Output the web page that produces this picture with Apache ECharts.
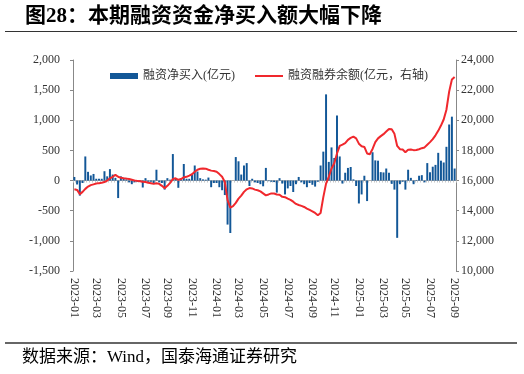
<!DOCTYPE html>
<html>
<head>
<meta charset="utf-8">
<script src="https://cdn.jsdelivr.net/npm/echarts@6/dist/echarts.min.js"></script>
<style>
html,body{margin:0;padding:0;background:#fff;}
#c{width:524px;height:374px;}
</style>
</head>
<body>
<div id="c"></div>
<script>
// weekly dates (Fridays)
const weeks = [
'2023-01-06','2023-01-13','2023-01-20','2023-01-27','2023-02-03','2023-02-10','2023-02-17','2023-02-24',
'2023-03-03','2023-03-10','2023-03-17','2023-03-24','2023-03-31','2023-04-07','2023-04-14','2023-04-21','2023-04-28',
'2023-05-05','2023-05-12','2023-05-19','2023-05-26','2023-06-02','2023-06-09','2023-06-16','2023-06-23','2023-06-30',
'2023-07-07','2023-07-14','2023-07-21','2023-07-28','2023-08-04','2023-08-11','2023-08-18','2023-08-25',
'2023-09-01','2023-09-08','2023-09-15','2023-09-22','2023-09-29','2023-10-06','2023-10-13','2023-10-20','2023-10-27',
'2023-11-03','2023-11-10','2023-11-17','2023-11-24','2023-12-01','2023-12-08','2023-12-15','2023-12-22','2023-12-29',
'2024-01-05','2024-01-12','2024-01-19','2024-01-26','2024-02-02','2024-02-09','2024-02-16','2024-02-23',
'2024-03-01','2024-03-08','2024-03-15','2024-03-22','2024-03-29','2024-04-05','2024-04-12','2024-04-19','2024-04-26',
'2024-05-03','2024-05-10','2024-05-17','2024-05-24','2024-05-31','2024-06-07','2024-06-14','2024-06-21','2024-06-28',
'2024-07-05','2024-07-12','2024-07-19','2024-07-26','2024-08-02','2024-08-09','2024-08-16','2024-08-23','2024-08-30',
'2024-09-06','2024-09-13','2024-09-20','2024-09-27','2024-10-04','2024-10-11','2024-10-18','2024-10-25',
'2024-11-01','2024-11-08','2024-11-15','2024-11-22','2024-11-29','2024-12-06','2024-12-13','2024-12-20','2024-12-27',
'2025-01-03','2025-01-10','2025-01-17','2025-01-24','2025-01-31','2025-02-07','2025-02-14','2025-02-21','2025-02-28',
'2025-03-07','2025-03-14','2025-03-21','2025-03-28','2025-04-04','2025-04-11','2025-04-18','2025-04-25',
'2025-05-02','2025-05-09','2025-05-16','2025-05-23','2025-05-30','2025-06-06','2025-06-13','2025-06-20','2025-06-27',
'2025-07-04','2025-07-11','2025-07-18','2025-07-25','2025-08-01','2025-08-08','2025-08-15','2025-08-22','2025-08-29',
'2025-09-05'
];

// 融资净买入 (亿元)
const netBuy = [
60,-65,-250,-40,400,145,85,110,
30,30,30,155,70,190,100,45,-290,
70,45,20,-30,-60,-30,-20,-15,-115,
40,-20,-20,-40,180,-30,-40,-150,
40,15,440,40,-120,15,275,30,30,
100,250,150,40,20,15,50,-110,-40,
-40,-110,-160,-240,-730,-870,0,390,
320,100,250,290,-90,30,-30,-40,-60,
-95,210,-10,-20,-25,-200,40,-50,-230,
-130,-90,-190,-60,60,-30,-60,-110,-40,
-70,-100,-20,250,480,1430,310,550,
375,1080,400,-50,130,210,225,20,-90,
-380,-230,80,-340,0,470,335,330,140,
135,200,130,-55,-150,-950,-60,-20,
-150,180,45,-60,10,80,90,-30,290,
140,230,260,460,330,300,560,930,1060,
200
];

// 融资融券余额 (亿元, 右轴)
const balance = [
15430,15380,15100,15250,15450,15600,15700,15750,
15800,15830,15850,15900,16000,16150,16250,16380,16250,
16180,16150,16130,16100,16050,16000,15980,15960,15920,
15900,15850,15820,15780,15820,15780,15650,15500,
15650,15850,16100,16150,16050,16100,16220,16250,16330,
16420,16580,16720,16780,16800,16790,16720,16660,16630,
16580,16430,16250,15900,14700,14200,14300,14520,
14800,15000,15250,15420,15500,15480,15400,15360,15280,
15150,15020,15080,15150,15140,15080,15060,14920,14900,
14800,14720,14600,14450,14380,14320,14250,14140,14050,
13960,13850,13700,13850,14900,15800,16250,16800,
17150,17800,18300,18380,18480,18700,18830,18920,18800,
18450,18280,18230,17800,17750,18100,18550,18800,18950,
19080,19250,19420,19400,19100,18300,18080,18060,
17880,18050,18060,18020,18030,18080,18150,18200,18380,
18550,18750,19000,19300,19650,20050,20700,21900,22700,
22870
];

const leftTicks = [-1500,-1000,-500,0,500,1000,1500,2000];
const rightTicks = [10000,12000,14000,16000,18000,20000,22000,24000];

const seriesNames = ['融资净买入(亿元)', '融资融券余额(亿元，右轴)'];
const titleText = '图28：本期融资资金净买入额大幅下降';
const sourceText = '数据来源：Wind，国泰海通证券研究';

const FONT = '"Liberation Serif", "Noto Sans CJK SC", serif';

function isLabelWeek(idx) {
  if (idx === 0) return true;
  const m = +weeks[idx].slice(5, 7);
  const pm = +weeks[idx - 1].slice(5, 7);
  return m !== pm && m % 2 === 1;
}
function fmt(v) { return Number(v).toLocaleString('en-US'); }

const chart = echarts.init(document.getElementById('c'), null, {renderer: 'canvas'});
chart.setOption({
  animation: false,
  backgroundColor: '#fff',
  textStyle: {fontFamily: FONT},
  graphic: [
    {type: 'text', left: 25, top: 6,
     style: {text: titleText, fontSize: 21, fontWeight: 'bold', fontFamily: FONT, fill: '#000'}},
    {type: 'line', shape: {x1: 5, y1: 31.5, x2: 517, y2: 31.5}, style: {stroke: '#333', lineWidth: 1}},
    {type: 'line', shape: {x1: 5, y1: 343, x2: 517, y2: 343}, style: {stroke: '#666', lineWidth: 2}},
    {type: 'text', left: 22, top: 349,
     style: {text: sourceText, fontSize: 17, fontFamily: FONT, fill: '#000'}}
  ],
  legend: {
    left: 105, top: 65, itemGap: 19, itemWidth: 28, itemHeight: 6,
    textStyle: {fontSize: 12, color: '#333', fontFamily: FONT},
    data: [
      {name: seriesNames[0], icon: 'rect'},
      {name: seriesNames[1], itemStyle: {opacity: 0}}
    ]
  },
  grid: {left: 73, right: 68, top: 60, bottom: 103, containLabel: false},
  xAxis: [
    {
      type: 'category', data: weeks, boundaryGap: true,
      axisLine: {show: false, onZero: false},
      axisTick: {show: false},
      splitLine: {show: false},
      axisLabel: {
        interval: (i) => isLabelWeek(i),
        formatter: (v) => v.slice(0, 7),
        rotate: -90, margin: 7, fontSize: 12, color: '#333', fontFamily: FONT
      }
    },
    {
      type: 'category', data: weeks, boundaryGap: true, position: 'bottom',
      axisLine: {show: true, onZero: true, lineStyle: {color: '#b0b0b0', width: 1}},
      axisTick: {show: true, interval: 0, length: 2, lineStyle: {color: '#c8c8c8'}},
      axisLabel: {show: false},
      splitLine: {show: false}
    }
  ],
  yAxis: [
    {
      type: 'value', position: 'left',
      min: leftTicks[0], max: leftTicks[leftTicks.length - 1], interval: 500,
      axisLine: {show: true, lineStyle: {color: '#888'}},
      axisTick: {show: true, length: 3, lineStyle: {color: '#888'}},
      splitLine: {show: false},
      axisLabel: {formatter: fmt, margin: 13, fontSize: 12, color: '#333', fontFamily: FONT}
    },
    {
      type: 'value', position: 'right',
      min: rightTicks[0], max: rightTicks[rightTicks.length - 1], interval: 2000,
      axisLine: {show: true, lineStyle: {color: '#888'}},
      axisTick: {show: true, length: 3, lineStyle: {color: '#888'}},
      splitLine: {show: false},
      axisLabel: {formatter: fmt, margin: 5, fontSize: 12, color: '#333', fontFamily: FONT}
    }
  ],
  series: [
    {
      name: seriesNames[0], type: 'bar', xAxisIndex: 0, yAxisIndex: 0,
      data: netBuy, barWidth: '72%',
      itemStyle: {color: '#125797'}
    },
    {
      name: seriesNames[1], type: 'line', xAxisIndex: 0, yAxisIndex: 1,
      data: balance, symbol: 'none', showSymbol: false,
      lineStyle: {color: '#F0282D', width: 2},
      itemStyle: {color: '#F0282D'}, z: 3
    }
  ]
});
</script>
</body>
</html>
